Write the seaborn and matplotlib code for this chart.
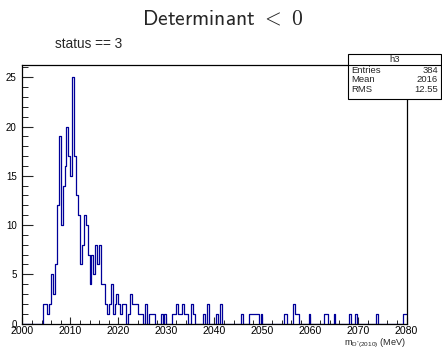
import numpy as np
import pandas as pd
import matplotlib
matplotlib.use("Agg")
import matplotlib.pyplot as plt
import seaborn as sns
from matplotlib.patches import Rectangle
from matplotlib.lines import Line2D
from matplotlib.ticker import MultipleLocator

# ---------------- data ----------------
x_min, x_max, n_bins = 2000, 2080, 200
counts = (
    [0] * 11
    + [2, 2, 1, 2, 5, 3, 6, 12, 19, 10, 14, 16, 20, 17, 15, 25, 17, 13]
    + [11, 6, 8, 11, 10, 7, 4, 7, 5, 8, 6, 8, 4, 4]
    + [2, 1, 2, 4, 1, 2, 3, 2, 1, 2, 2, 0, 1, 3, 2, 2, 2, 1, 1, 1, 0, 2, 0, 1, 1, 1]
    + [0, 0, 0]
    + [1, 0, 1, 0, 0, 0, 1, 1, 2, 1, 1, 2, 1, 1, 0, 0, 2, 1]
    + [0, 0, 0, 0]
    + [1, 0, 2, 0, 0, 0, 0, 1, 0, 2]
    + [0] * 10
    + [1, 0, 0, 0, 1, 1, 1, 1, 1, 0, 1]
    + [0] * 11
    + [1, 1, 0, 0, 0, 2, 1, 1]
    + [0] * 5
    + [1]
    + [0] * 7
    + [1, 1, 0, 0, 0, 1]
    + [0] * 7
    + [1, 0, 0, 1]
    + [0] * 10
    + [1]
    + [0] * 13
    + [1, 1]
)
title_text = r"$\mathsf{Determinant}\ <\ \mathsf{0}$"
subtitle_text = "status == 3"
stats_name = "h3"
stats_rows = [("Entries", "384"), ("Mean", "2016"), ("RMS", "12.55")]
x_label = r"m$_{\mathregular{D^{*}(2010)}}$ (MeV)"

bin_width = (x_max - x_min) / n_bins
edges = np.linspace(x_min, x_max, n_bins + 1)
centers = 0.5 * (edges[:-1] + edges[1:])
df = pd.DataFrame({"m": centers, "n": counts})

# ---------------- figure ----------------
sns.set_style("ticks")
plt.rcParams["font.family"] = ["Liberation Sans", "DejaVu Sans"]

W, H = 442, 349
fig = plt.figure(figsize=(W / 100, H / 100), dpi=100)

def fx(x):
    return x / W

def fy(y):
    return 1 - y / H

ax_l, ax_r, ax_t, ax_b = 22.3, 406.5, 65, 323.5
ax = fig.add_axes([fx(ax_l), fy(ax_b), (ax_r - ax_l) / W, (ax_b - ax_t) / H])

sns.histplot(data=df, x="m", weights="n", binwidth=bin_width,
             binrange=(x_min, x_max), element="step",
             fill=False, color="#000099", linewidth=0.9, ax=ax)

ax.set_xlim(x_min, x_max)
ax.set_ylim(0, 26.25)
ax.set_xlabel("")
ax.set_ylabel("")
for s in ax.spines.values():
    s.set_visible(True)
    s.set_linewidth(0.9)
    s.set_color("black")

ax.xaxis.set_major_locator(MultipleLocator(10))
ax.xaxis.set_minor_locator(MultipleLocator(2))
ax.yaxis.set_major_locator(MultipleLocator(5))
ax.yaxis.set_minor_locator(MultipleLocator(1))
ax.tick_params(axis="x", which="major", direction="in", length=5.2, width=0.8,
               labelsize=7.6, pad=1.8, top=False, labelcolor="black")
ax.tick_params(axis="x", which="minor", direction="in", length=2.6, width=0.7, top=False)
ax.tick_params(axis="y", which="major", direction="in", length=8, width=0.8,
               labelsize=7.0, pad=4, right=False, labelcolor="black")
ax.tick_params(axis="y", which="minor", direction="in", length=4, width=0.7, right=False)

# title & subtitle
fig.text(fx(223), fy(19), title_text, ha="center", va="center", fontsize=15.5,
         math_fontfamily="cm")
fig.text(fx(55), fy(44), subtitle_text, ha="left", va="center", fontsize=9.8)

# axis title
fig.text(fx(406), fy(343.5), x_label, ha="right", va="center", fontsize=6.6,
         math_fontfamily="dejavusans")

# stats box
bx0, bx1, by0, by1 = 348, 441, 54, 99
fig.add_artist(Rectangle((fx(bx0), fy(by1)), (bx1 - bx0) / W, (by1 - by0) / H,
                         transform=fig.transFigure, facecolor="white",
                         edgecolor="black", linewidth=0.8, zorder=10))
fig.add_artist(Line2D([fx(bx0), fx(bx1)], [fy(65), fy(65)], transform=fig.transFigure,
                      color="black", linewidth=0.8, zorder=11))
fig.text(fx((bx0 + bx1) / 2), fy(59.5), stats_name, ha="center", va="center",
         fontsize=6.8, zorder=12)
for i, (k, v) in enumerate(stats_rows):
    yy = 70.5 + i * 9.5
    fig.text(fx(bx0 + 3), fy(yy), k, ha="left", va="center", fontsize=6.8, zorder=12)
    fig.text(fx(bx1 - 3), fy(yy), v, ha="right", va="center", fontsize=6.8, zorder=12)

fig.savefig("out.png", dpi=100, facecolor="white")
